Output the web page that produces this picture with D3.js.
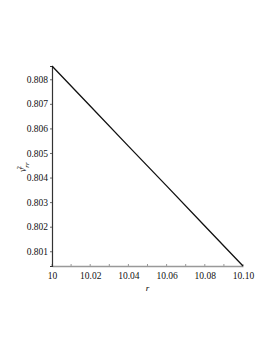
<!DOCTYPE html>
<html>
<head>
<meta charset="utf-8">
<script src="https://cdn.jsdelivr.net/npm/d3@7"></script>
<style>
  body { margin: 0; background: #fff; }
</style>
</head>
<body>
<div id="chart"></div>
<script>
// values
var rVals = [10, 10.02, 10.04, 10.06, 10.08, 10.1];
var vVals = [0.80854, 0.80691, 0.80528, 0.80366, 0.80203, 0.80040];
var xTicks = [10, 10.02, 10.04, 10.06, 10.08, 10.1];
var xTickLabels = ["10", "10.02", "10.04", "10.06", "10.08", "10.10"];
var xMinor = [10.01, 10.03, 10.05, 10.07, 10.09];
var yTicks = [0.801, 0.802, 0.803, 0.804, 0.805, 0.806, 0.807, 0.808];

var serif = "'Liberation Serif', 'DejaVu Serif', serif";
var W = 273, H = 353;
var margin = {top: 66, right: 30, bottom: 87, left: 52},
    width = 243 - margin.left,
    height = 266 - margin.top;

var svg = d3.select("#chart").append("svg")
  .attr("width", W).attr("height", H)
  .append("g")
  .attr("transform", "translate(" + margin.left + "," + margin.top + ")");

var x = d3.scaleLinear().domain([10, 10.1]).range([0, width]);
var y = d3.scaleLinear().domain([0.80040, 0.80854]).range([height, 0]);

// x axis
var xAx = svg.append("g").attr("transform", "translate(0," + height + ")")
  .call(d3.axisBottom(x).tickValues(xTicks).tickSize(0).tickPadding(6)
    .tickFormat((d, i) => xTickLabels[i]))
  .attr("font-family", serif).attr("font-size", 9.5);
xAx.select(".domain").attr("stroke", "#999").attr("stroke-width", 1.6);
xAx.selectAll("text").attr("fill", "#111");

svg.selectAll(".xminor").data(xMinor.concat(xTicks)).enter().append("line")
  .attr("x1", d => x(d)).attr("x2", d => x(d))
  .attr("y1", height).attr("y2", height - 2)
  .attr("stroke", "#999").attr("stroke-width", 1);

// y axis
var yAx = svg.append("g")
  .call(d3.axisLeft(y).tickValues(yTicks).tickSize(2).tickPadding(2)
    .tickFormat(d3.format(".3f")))
  .attr("font-family", serif).attr("font-size", 9.5);
yAx.select(".domain").attr("stroke", "#333").attr("stroke-width", 1.2);
yAx.selectAll(".tick line").attr("stroke", "#666");
yAx.selectAll("text").attr("fill", "#111");

// line
svg.append("path")
  .datum(rVals.map((r, i) => [r, vVals[i]]))
  .attr("fill", "none")
  .attr("stroke", "#111")
  .attr("stroke-width", 1.3)
  .attr("d", d3.line().x(d => x(d[0])).y(d => y(d[1])));

// axis labels
svg.append("text")
  .attr("x", x(10.05)).attr("y", height + 25)
  .attr("text-anchor", "middle")
  .attr("font-family", serif)
  .style("font-size", "9px").style("font-style", "italic")
  .text("r");

var yl = svg.append("text")
  .attr("transform", "translate(" + (-26) + "," + (y(0.80442)) + ") rotate(-90)")
  .attr("text-anchor", "middle")
  .attr("font-family", serif)
  .style("font-size", "9.5px").style("font-style", "italic");
yl.append("tspan").text("v");
yl.append("tspan").attr("dy", 3).style("font-size", "7px").text("rr");
yl.append("tspan").attr("dx", -7).attr("dy", -8).style("font-size", "7px").style("font-style", "normal").text("2");
</script>
</body>
</html>
